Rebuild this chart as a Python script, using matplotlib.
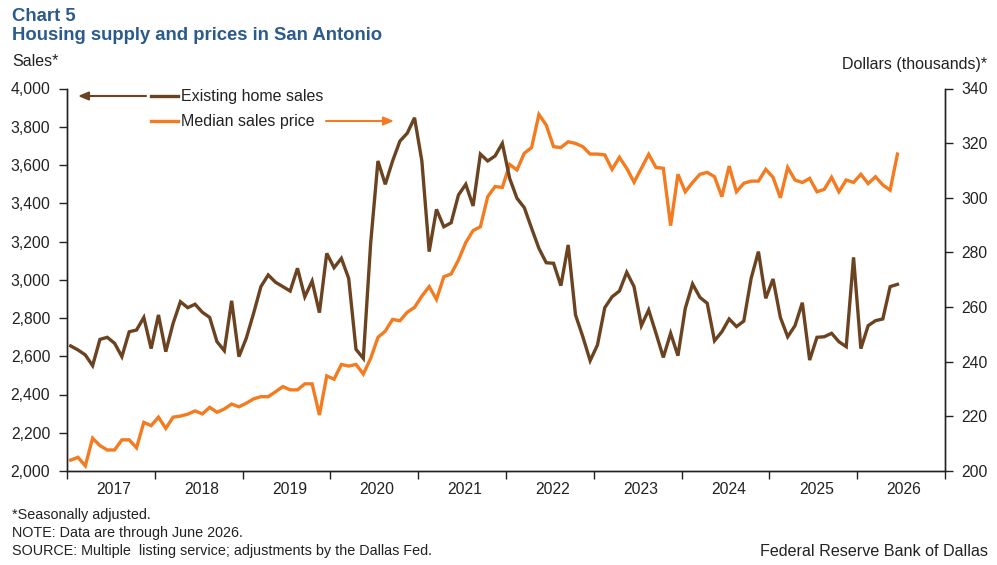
import matplotlib
matplotlib.use("Agg")
import matplotlib.pyplot as plt
from matplotlib.ticker import FuncFormatter, MultipleLocator, FixedLocator
from matplotlib.lines import Line2D

plt.rcParams['font.family'] = ['Liberation Sans', 'DejaVu Sans']

years = ['2017', '2018', '2019', '2020', '2021', '2022', '2023', '2024', '2025', '2026']

sales = [2654, 2633, 2607, 2551, 2688, 2699, 2668, 2598, 2728, 2737,
         2803, 2640, 2816, 2624, 2772, 2885, 2854, 2872, 2830, 2803,
         2676, 2629, 2890, 2598, 2694, 2824, 2964, 3025, 2987, 2964,
         2941, 3060, 2911, 2993, 2828, 3138, 3063, 3112, 3007, 2636,
         2589, 3190, 3621, 3499, 3621, 3725, 3766, 3847, 3621, 3147,
         3368, 3277, 3298, 3443, 3499, 3386, 3657, 3621, 3647, 3713,
         3530, 3426, 3377, 3269, 3164, 3089, 3086, 2969, 3182, 2816,
         2702, 2577, 2659, 2854, 2911, 2941, 3039, 2964, 2760, 2842,
         2720, 2594, 2720, 2603, 2850, 2978, 2908, 2877, 2681, 2728,
         2795, 2755, 2784, 3007, 3147, 2903, 3004, 2803, 2702, 2760,
         2880, 2580, 2699, 2702, 2720, 2676, 2650, 3117, 2640, 2760,
         2786, 2795, 2964, 2976]

price = [204.0, 205.0, 201.9, 212.0, 209.3, 207.7, 207.7, 211.4, 211.4, 208.5,
         217.8, 216.6, 219.7, 215.6, 219.7, 220.1, 220.8, 222.0, 220.9, 223.3,
         221.5, 222.7, 224.5, 223.5, 224.8, 226.4, 227.2, 227.2, 229.0, 230.9,
         229.7, 229.7, 231.9, 231.9, 220.5, 234.8, 233.6, 239.0, 238.4, 239.0,
         235.5, 241.2, 248.9, 251.2, 255.5, 255.0, 258.1, 259.9, 264.0, 267.5,
         262.8, 271.1, 272.1, 277.2, 283.6, 288.0, 289.4, 300.4, 304.1, 303.8,
         312.2, 310.2, 316.3, 318.4, 330.5, 326.6, 318.7, 318.4, 320.5, 319.9,
         318.7, 316.0, 316.0, 315.7, 310.4, 314.8, 310.8, 305.7, 310.8, 315.9,
         311.1, 310.8, 289.8, 308.6, 302.2, 305.6, 308.6, 309.3, 307.7, 300.4,
         311.6, 302.2, 305.3, 306.1, 306.1, 310.4, 307.5, 300.0, 311.1, 306.5,
         305.6, 307.1, 302.2, 303.1, 307.5, 302.2, 306.5, 305.6, 308.6, 305.2,
         307.7, 304.7, 302.8, 316.0]

BROWN = '#6B4320'
ORANGE = '#F47B20'
TITLE = '#2B5A8C'
TXT = '#222222'

W, H = 997, 565
fig = plt.figure(figsize=(W / 100, H / 100), dpi=100)
L, R, T, B = 67, 945, 88.5, 471
ax = fig.add_axes([L / W, 1 - B / H, (R - L) / W, (B - T) / H])
ax2 = ax.twinx()

x = [i + 0.5 for i in range(len(sales))]
ax2.plot(x, price, color=ORANGE, lw=2.4, solid_joinstyle='miter', zorder=2)
ax.plot(x, sales, color=BROWN, lw=2.4, solid_joinstyle='miter', zorder=3)
ax.set_zorder(ax2.get_zorder() + 1)
ax.patch.set_visible(False)

ax.set_xlim(0, 12 * len(years))
ax.set_ylim(2000, 4000)
ax2.set_ylim(200, 340)

ax.yaxis.set_major_locator(MultipleLocator(200))
ax.yaxis.set_major_formatter(FuncFormatter(lambda v, p: f'{int(v):,}'))
ax2.yaxis.set_major_locator(MultipleLocator(20))

ax.xaxis.set_major_locator(FixedLocator([12 * i for i in range(len(years) + 1)]))
ax.xaxis.set_minor_locator(FixedLocator([12 * i + 6.4 for i in range(len(years))]))
ax.set_xticklabels([])
ax.set_xticklabels(years, minor=True)
ax.tick_params(axis='x', which='major', length=6, width=1, direction='out', color='#222222')
ax.tick_params(axis='x', which='minor', length=0, pad=8, labelsize=11.3, labelcolor=TXT)
ax.tick_params(axis='y', length=6, width=1, direction='out', labelsize=11.3, labelcolor=TXT, pad=6, color='#222222')
ax2.tick_params(axis='y', length=6, width=1, direction='out', labelsize=11.3, labelcolor=TXT, pad=6, color='#222222')

for a in (ax, ax2):
    a.spines['top'].set_visible(False)
    for s in ('left', 'right', 'bottom'):
        a.spines[s].set_linewidth(1)
        a.spines[s].set_color('#222222')

# titles
fig.text(12 / W, 1 - 20.7 / H, 'Chart 5', fontsize=13.3, fontweight='bold', color=TITLE, va='baseline', ha='left')
fig.text(12 / W, 1 - 40 / H, 'Housing supply and prices in San Antonio', fontsize=13.3, fontweight='bold',
         color=TITLE, va='baseline', ha='left')
fig.text(12 / W, 1 - 62 / H, 'Sales*', fontsize=11.5, color=TXT, va='center', ha='left')
fig.text(987 / W, 1 - 65 / H, 'Dollars (thousands)*', fontsize=11.5, color=TXT, va='center', ha='right')

# legend
def fx(px):
    return px / W

def fy(py):
    return 1 - py / H

fig.add_artist(Line2D([fx(151), fx(178)], [fy(96), fy(96)], color=BROWN, lw=2.4))
fig.text(fx(181), fy(96), 'Existing home sales', fontsize=11.5, color=TXT, va='center', ha='left')
fig.add_artist(Line2D([fx(151), fx(178)], [fy(121), fy(121)], color=ORANGE, lw=2.4))
fig.text(fx(181), fy(121), 'Median sales price', fontsize=11.5, color=TXT, va='center', ha='left')

ax.annotate('', xy=(fx(78), fy(96)), xytext=(fx(146), fy(96)), xycoords='figure fraction',
            textcoords='figure fraction',
            arrowprops=dict(arrowstyle='-|>,head_length=0.6,head_width=0.25', color=BROWN, lw=1.5,
                            shrinkA=0, shrinkB=0))
ax.annotate('', xy=(fx(394), fy(121)), xytext=(fx(326), fy(121)), xycoords='figure fraction',
            textcoords='figure fraction',
            arrowprops=dict(arrowstyle='-|>,head_length=0.6,head_width=0.25', color=ORANGE, lw=1.5,
                            shrinkA=0, shrinkB=0))

# footnotes
fig.text(12 / W, 1 - 515 / H, '*Seasonally adjusted.', fontsize=10.4, color=TXT, va='center', ha='left')
fig.text(12 / W, 1 - 533 / H, 'NOTE: Data are through June 2026.', fontsize=10.4, color=TXT, va='center', ha='left')
fig.text(12 / W, 1 - 551 / H, 'SOURCE: Multiple  listing service; adjustments by the Dallas Fed.', fontsize=10.4,
         color=TXT, va='center', ha='left')
fig.text(988 / W, 1 - 552 / H, 'Federal Reserve Bank of Dallas', fontsize=11.6, color=TXT, va='center', ha='right')

fig.savefig('out.png', dpi=100)
